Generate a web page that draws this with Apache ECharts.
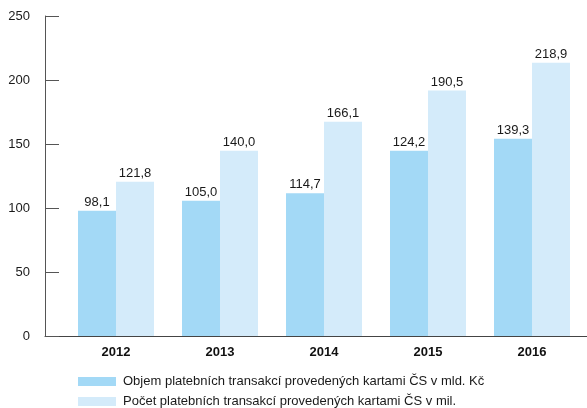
<html>

<head>
    <meta charset="utf-8">
    <title>Platební transakce kartami ČS</title>
    <script src="https://cdn.jsdelivr.net/npm/echarts@6.0.0/dist/echarts.min.js"></script>
    <style>
        body { margin: 0; background: #fff; }
    </style>
</head>

<body>
    <div id="main" style="width:587px;height:408px;"></div>
    <script type="text/javascript">
        // data
        var years = ["2012", "2013", "2014", "2015", "2016"];
        var objemValues = [97.9, 105.7, 111.5, 144.8, 154.1];
        var objemLabels = ["98,1", "105,0", "114,7", "124,2", "139,3"];
        var pocetValues = [120.5, 144.8, 167.4, 191.7, 213.5];
        var pocetLabels = ["121,8", "140,0", "166,1", "190,5", "218,9"];
        var yTicks = [0, 50, 100, 150, 200, 250];
        var seriesNames = [
            "Objem platebních transakcí provedených kartami ČS v mld. Kč",
            "Počet platebních transakcí provedených kartami ČS v mil."
        ];

        var font = "Liberation Sans";
        var myChart = echarts.init(document.getElementById('main'));

        function barLabel(labels) {
            return {
                show: true,
                position: "top",
                distance: 2,
                color: "#1a1a1a",
                fontSize: 13,
                fontFamily: font,
                formatter: function (p) { return labels[p.dataIndex]; }
            };
        }

        function legendRow(name, top) {
            return {
                left: 78,
                top: top,
                padding: 0,
                itemWidth: 38,
                itemHeight: 9,
                icon: "rect",
                textStyle: { color: "#1a1a1a", fontSize: 13, fontFamily: font, padding: [0, 0, 0, 2] },
                data: [name]
            };
        }

        var option = {
            animation: false,
            textStyle: { fontFamily: font },
            grid: [
                { left: 64, right: 3, top: 16, bottom: 72 },
                { left: 45, right: 0, top: 16, bottom: 72 }
            ],
            legend: [
                legendRow(seriesNames[0], 375),
                legendRow(seriesNames[1], 395)
            ],
            xAxis: [
                {
                    type: "category",
                    gridIndex: 0,
                    data: years,
                    axisLine: { show: false },
                    axisTick: { show: false },
                    axisLabel: { color: "#111", fontWeight: "bold", fontSize: 13, margin: 10, fontFamily: font }
                },
                {
                    type: "value",
                    gridIndex: 1,
                    min: 0,
                    max: 1,
                    axisLine: { show: true, lineStyle: { color: "#444", width: 1 } },
                    axisTick: { show: false },
                    axisLabel: { show: false },
                    splitLine: { show: false }
                }
            ],
            yAxis: [
                {
                    type: "value",
                    gridIndex: 0,
                    min: yTicks[0],
                    max: yTicks[yTicks.length - 1],
                    interval: yTicks[1] - yTicks[0],
                    offset: 19,
                    axisLine: { show: true, lineStyle: { color: "#555", width: 1 } },
                    axisTick: { show: true, inside: true, length: 14, lineStyle: { color: "#555" } },
                    axisLabel: { color: "#1a1a1a", fontSize: 13, margin: 15, fontFamily: font },
                    splitLine: { show: false }
                },
                {
                    type: "value",
                    gridIndex: 1,
                    min: 0,
                    max: 1,
                    show: false
                }
            ],
            series: [
                {
                    name: seriesNames[0],
                    type: "bar",
                    xAxisIndex: 0,
                    yAxisIndex: 0,
                    barWidth: 38,
                    barGap: "0%",
                    itemStyle: { color: "#a3d9f6" },
                    label: barLabel(objemLabels),
                    data: objemValues
                },
                {
                    name: seriesNames[1],
                    type: "bar",
                    xAxisIndex: 0,
                    yAxisIndex: 0,
                    barWidth: 38,
                    barGap: "0%",
                    itemStyle: { color: "#d4ebfa" },
                    label: barLabel(pocetLabels),
                    data: pocetValues
                }
            ]
        };
        option && myChart.setOption(option);
    </script>
</body>

</html>
